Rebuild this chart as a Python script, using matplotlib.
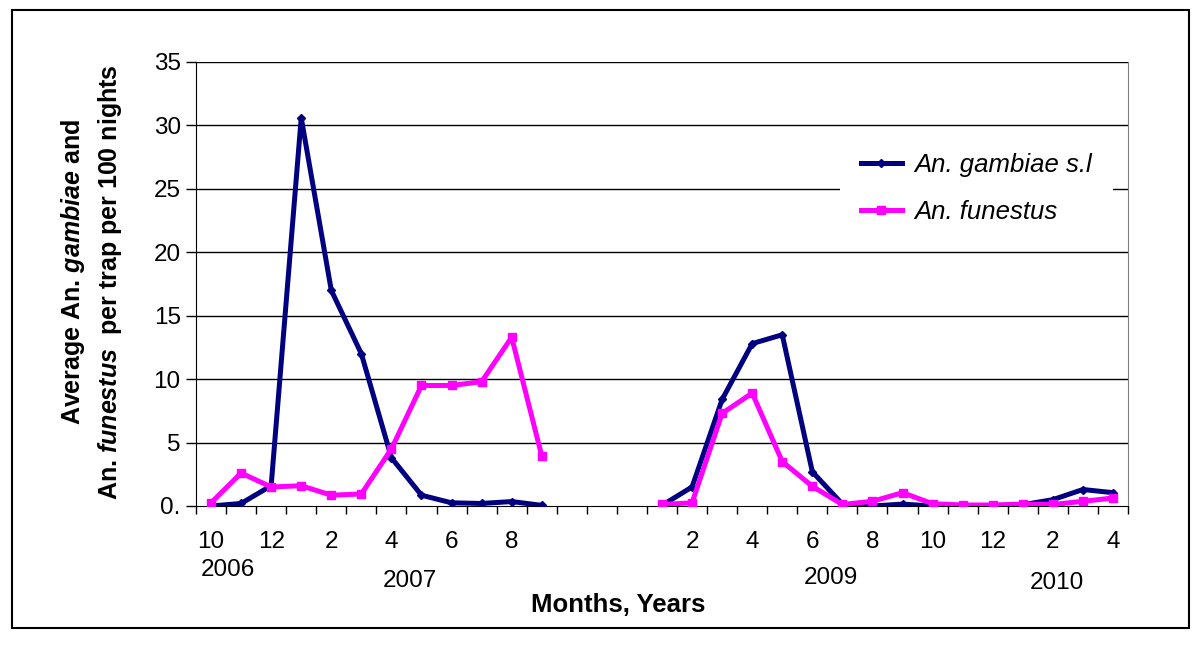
import numpy as np
import matplotlib
matplotlib.use("Agg")
import matplotlib.pyplot as plt
from matplotlib.patches import Rectangle

plt.rcParams['font.family'] = ['Liberation Sans', 'DejaVu Sans']
plt.rcParams['mathtext.fontset'] = 'custom'
plt.rcParams['mathtext.rm'] = 'Liberation Sans:bold'
plt.rcParams['mathtext.bf'] = 'Liberation Sans:bold'
plt.rcParams['mathtext.it'] = 'Liberation Sans:italic'
plt.rcParams['mathtext.bfit'] = 'Liberation Sans:italic:bold'

# Categories: Oct 2006 - Sep 2007, 3 blank categories, Jan 2009 - Apr 2010
month_labels = ['10', '', '12', '', '2', '', '4', '', '6', '', '8', '',
                '', '', '',
                '', '2', '', '4', '', '6', '', '8', '', '10', '', '12', '', '2', '', '4']
gambiae = [0.0, 0.2, 1.6, 30.6, 17.0, 12.0, 3.8, 0.85, 0.25, 0.2, 0.35, 0.05,
           np.nan, np.nan, np.nan,
           0.05, 1.5, 8.4, 12.8, 13.5, 2.7, 0.15, 0.0, 0.15, 0.0, 0.0, 0.0, 0.1, 0.5, 1.3, 1.05]
funestus = [0.25, 2.6, 1.5, 1.6, 0.85, 0.95, 4.5, 9.5, 9.5, 9.8, 13.3, 3.95,
            np.nan, np.nan, np.nan,
            0.12, 0.25, 7.3, 8.9, 3.5, 1.55, 0.12, 0.37, 1.05, 0.18, 0.08, 0.08, 0.15, 0.12, 0.37, 0.63]
year_labels = ['2006', '2007', '2009', '2010']
year_pos = [1.07, 7.13, 21.13, 28.63]
year_y = [-0.144, -0.169, -0.162, -0.173]
y_ticks = [0, 5, 10, 15, 20, 25, 30, 35]
y_ticklabels = ['0.', '5', '10', '15', '20', '25', '30', '35']

n = len(month_labels)
x = np.arange(n) + 0.5

fig = plt.figure(figsize=(12, 6.46), dpi=100)
ax = fig.add_axes([196/1200, 1-506/646, (1128-196)/1200, (506-62)/646])

# outer frame
fig.patches.append(Rectangle((12/1200, 1-628/646), (1189-12)/1200, (628-10)/646,
                             transform=fig.transFigure, fill=False, edgecolor='black', lw=1.5))

ax.plot(x, gambiae, color='#000080', lw=3.6, marker='D', markersize=4.5, label='An. gambiae s.l', zorder=3)
ax.plot(x, funestus, color='#FF00FF', lw=3.6, marker='s', markersize=5.5, label='An. funestus', zorder=3)

ax.set_xlim(0, n)
ax.set_ylim(0, 35)
ax.set_yticks(y_ticks)
ax.set_yticklabels(y_ticklabels, fontsize=17.5)
ax.tick_params(axis='y', direction='out', length=7, width=1, pad=4)
for yv in y_ticks[1:]:
    ax.axhline(yv, color='black', lw=1, zorder=1)

ax.set_xticks(np.arange(n + 1))
ax.set_xticklabels([])
ax.tick_params(axis='x', which='major', direction='out', length=6, width=1)
ax.set_xticks(x, minor=True)
ax.set_xticklabels(month_labels, minor=True, fontsize=17.5)
ax.tick_params(axis='x', which='minor', length=0, pad=18)

ax.spines['top'].set_visible(False)
ax.spines['right'].set_color('#808080')
ax.spines['left'].set_color('black')
ax.spines['bottom'].set_color('black')

for lab, xp, yp in zip(year_labels, year_pos, year_y):
    ax.text(xp, yp, lab, transform=ax.get_xaxis_transform(), ha='center', va='center', fontsize=17.5)

fig.text(618/1200, 1-605/646, 'Months, Years', ha='center', va='center', fontsize=18.5, fontweight='bold')
fig.text(73/1200, 1-272/646, r'Average An. $\mathbfit{gambiae}$ and', rotation=90,
         ha='center', va='center', fontsize=18, fontweight='bold')
fig.text(110/1200, 1-282/646, r'An. $\mathbfit{funestus}$  per trap per 100 nights', rotation=90,
         ha='center', va='center', fontsize=18, fontweight='bold')

leg = ax.legend(loc='center left', bbox_to_anchor=((840-196)/932, 25/35), borderaxespad=0,
                frameon=True, fancybox=False, framealpha=1, facecolor='white', edgecolor='white',
                prop={'family': 'Liberation Sans', 'style': 'italic', 'size': 18.5},
                handlelength=1.6, handletextpad=0.5, labelspacing=0.9, borderpad=0.8)
leg.get_frame().set_linewidth(0)

fig.savefig('out.png', dpi=100)
